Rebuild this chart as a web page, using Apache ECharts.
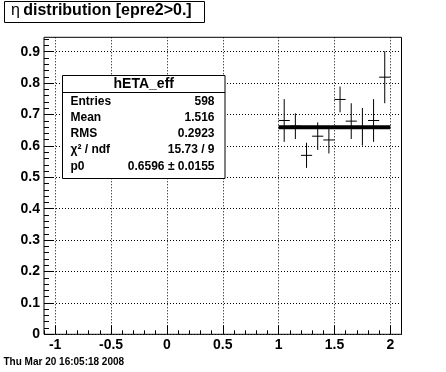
<!DOCTYPE html>
<html>
<head>
<meta charset="utf-8">
<script src="https://cdn.jsdelivr.net/npm/echarts@6/dist/echarts.min.js"></script>
<style>
html,body{margin:0;padding:0;background:#fff;}
#c{width:446px;height:372px;}
</style>
</head>
<body>
<div id="c"></div>
<script>
// ---- data ----
const binCenters = [1.05, 1.15, 1.25, 1.35, 1.45, 1.55, 1.65, 1.75, 1.85, 1.95];
const binValues  = [0.681, 0.663, 0.570, 0.631, 0.619, 0.748, 0.679, 0.661, 0.681, 0.819];
const binErrors  = [0.068, 0.041, 0.040, 0.044, 0.043, 0.041, 0.057, 0.060, 0.068, 0.083];
const binHalfWidth = 0.05;
const fitRange = [1, 2];
const fitP0 = 0.6596;
const xMajorTicks = [-1, -0.5, 0, 0.5, 1, 1.5, 2];
const yMajorTicks = [0, 0.1, 0.2, 0.3, 0.4, 0.5, 0.6, 0.7, 0.8, 0.9];
const statsTitle = 'hETA_eff';
const statsLabels = ['Entries', 'Mean', 'RMS', 'χ² / ndf', 'p0'];
const statsValues = ['598', '1.516', '0.2923', '15.73 / 9', '0.6596 ± 0.0155'];
const titleText = 'distribution [epre2>0.]';
const dateText = 'Thu Mar 20 16:05:18 2008';

const xMin = -1.1, xMax = 2.1, yMin = 0, yMax = 0.946;
const xMinor = []; for (let i = -11; i <= 21; i++) xMinor.push(i / 10);
const yMinor = []; for (let i = 0; i <= 47; i++) yMinor.push(i / 50);

const errData = binCenters.map((c, i) => [c, binValues[i], binErrors[i]]);

const font = 'Liberation Sans, Arial, Helvetica, sans-serif';
const fmt = v => String(Math.round(v * 10) / 10);

const chart = echarts.init(document.getElementById('c'), null, {renderer: 'canvas'});
chart.setOption({
  backgroundColor: '#fff',
  animation: false,
  grid: {left: 44, right: 44.5, top: 37.3, bottom: 37.7, show: true, borderColor: '#000', borderWidth: 1, backgroundColor: 'transparent'},
  xAxis: [
    {type: 'value', min: xMin, max: xMax, position: 'bottom',
     axisLine: {show: false, onZero: false},
     axisTick: {show: true, inside: true, length: 9, customValues: xMajorTicks, lineStyle: {color: '#000'}},
     axisLabel: {show: true, customValues: xMajorTicks, formatter: fmt, color: '#000', fontFamily: font, fontWeight: 'bold', fontSize: 14, margin: 4},
     splitLine: {show: true, lineStyle: {color: '#000', type: [1, 2], width: 1}}},
    {type: 'value', min: xMin, max: xMax, position: 'bottom',
     axisLine: {show: false, onZero: false},
     axisTick: {show: true, inside: true, length: 4, customValues: xMinor, lineStyle: {color: '#000'}},
     axisLabel: {show: false}, splitLine: {show: false}}
  ],
  yAxis: [
    {type: 'value', min: yMin, max: yMax, position: 'left',
     axisLine: {show: false, onZero: false},
     axisTick: {show: true, inside: true, length: 9, customValues: yMajorTicks, lineStyle: {color: '#000'}},
     axisLabel: {show: true, customValues: yMajorTicks, formatter: fmt, color: '#000', fontFamily: font, fontWeight: 'bold', fontSize: 14, margin: 4},
     splitLine: {show: true, lineStyle: {color: '#000', type: [1, 2], width: 1}}},
    {type: 'value', min: yMin, max: yMax, position: 'left',
     axisLine: {show: false, onZero: false},
     axisTick: {show: true, inside: true, length: 5, customValues: yMinor, lineStyle: {color: '#000'}},
     axisLabel: {show: false}, splitLine: {show: false}}
  ],
  series: [
    {type: 'custom', xAxisIndex: 0, yAxisIndex: 0, data: errData, z: 5,
     renderItem: function (params, api) {
       const x = api.value(0), y = api.value(1), e = api.value(2);
       const pL = api.coord([x - binHalfWidth, y]);
       const pR = api.coord([x + binHalfWidth, y]);
       const pT = api.coord([x, y + e]);
       const pB = api.coord([x, y - e]);
       const st = {stroke: '#000', lineWidth: 1};
       return {type: 'group', children: [
         {type: 'line', shape: {x1: pL[0], y1: pL[1], x2: pR[0], y2: pR[1]}, style: st},
         {type: 'line', shape: {x1: pT[0], y1: pT[1], x2: pB[0], y2: pB[1]}, style: st}
       ]};
     }},
    {type: 'line', xAxisIndex: 0, yAxisIndex: 0, data: [[fitRange[0], fitP0], [fitRange[1], fitP0]],
     symbol: 'none', lineStyle: {color: '#000', width: 4}, z: 6}
  ],
  graphic: (function () {
    const g = [];
    // title box
    g.push({type: 'rect', left: 4, top: 1, shape: {width: 200, height: 21}, style: {fill: '#fff', stroke: '#000', lineWidth: 1}, z: 10});
    g.push({type: 'text', left: 11, top: 3, z: 11, style: {
      text: '{s|η} {b|' + titleText + '}',
      rich: {s: {fontFamily: font, fontSize: 16, fill: '#000'}, b: {fontFamily: font, fontSize: 16, fontWeight: 'bold', fill: '#000'}}
    }});
    // stats box
    const bx = 62.5, by = 75.5, bw = 162.5, bh = 103;
    g.push({type: 'rect', shape: {x: bx, y: by, width: bw, height: bh}, style: {fill: '#fff', stroke: '#000', lineWidth: 1}, z: 10});
    g.push({type: 'line', shape: {x1: bx, y1: 92.5, x2: bx + bw, y2: 92.5}, style: {stroke: '#000', lineWidth: 1}, z: 11});
    g.push({type: 'text', z: 11, x: bx + bw / 2, y: 84, style: {text: statsTitle, fontFamily: font, fontSize: 14, fontWeight: 'bold', fill: '#000', align: 'center', verticalAlign: 'middle'}});
    const rowY = [101.7, 117.7, 133.5, 150, 166.5];
    statsLabels.forEach((l, i) => {
      g.push({type: 'text', z: 11, x: 70.5, y: rowY[i], style: {text: l, fontFamily: font, fontSize: 12, fontWeight: 'bold', fill: '#000', align: 'left', verticalAlign: 'middle'}});
      g.push({type: 'text', z: 11, x: 214.5, y: rowY[i], style: {text: statsValues[i], fontFamily: font, fontSize: 12, fontWeight: 'bold', fill: '#000', align: 'right', verticalAlign: 'middle'}});
    });
    // date
    g.push({type: 'text', z: 11, x: 3.5, y: 362, style: {text: dateText, fontFamily: font, fontSize: 10, fontWeight: 'bold', fill: '#000', align: 'left', verticalAlign: 'middle'}});
    return g;
  })()
});
</script>
</body>
</html>
